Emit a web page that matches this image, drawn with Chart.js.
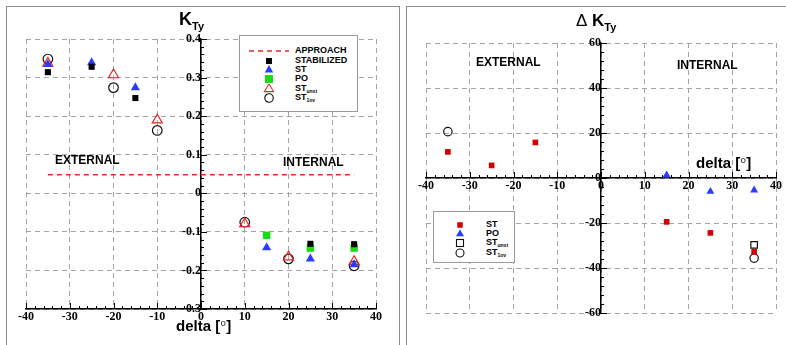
<!DOCTYPE html>
<html><head><meta charset="utf-8">
<script src="https://cdn.jsdelivr.net/npm/chart.js@4.4.1/dist/chart.umd.min.js"></script>
<style>
html,body{margin:0;padding:0;background:#fff;}
body{width:786px;height:345px;position:relative;overflow:hidden;font-family:"Liberation Sans",Arial,sans-serif;}
.panel{position:absolute;border:1px solid #8c8c8c;background:transparent;}
canvas{position:absolute;top:0;}
.t{position:absolute;font-weight:bold;color:#000;white-space:nowrap;line-height:1;}
.leg{position:absolute;background:#fff;border:1px solid #9a9a9a;box-sizing:border-box;}
.row{position:absolute;font-weight:bold;font-size:9px;line-height:9px;white-space:nowrap;color:#000;}
.sym{position:absolute;line-height:0;}
.sym svg{display:block;}
.s{font-size:5px;vertical-align:-2px;}
</style>
</head><body>
<div class="panel" style="left:6px;top:6px;width:392px;height:400px;"></div>
<div class="panel" style="left:406px;top:6px;width:400px;height:400px;"></div>
<canvas id="cL" width="400" height="345" style="left:0;width:400px;height:345px;"></canvas>
<canvas id="cR" width="386" height="345" style="left:400px;width:386px;height:345px;"></canvas>

<div class="t" style="left:179px;top:10px;font-size:18px;">K<span style="font-size:11px;vertical-align:-5px;">Ty</span></div>
<div class="t" style="left:176px;top:318px;font-size:15px;">delta [<span style="font-family:'Liberation Serif';font-weight:normal;">°</span>]</div>
<div class="t" style="left:55px;top:154px;font-size:12px;">EXTERNAL</div>
<div class="t" style="left:283px;top:156px;font-size:12px;">INTERNAL</div>

<div class="t" style="left:576px;top:12px;font-size:17px;"><span style="font-weight:normal;">Δ</span> K<span style="font-size:11px;vertical-align:-5px;">Ty</span></div>
<div class="t" style="left:696px;top:155px;font-size:15px;">delta [<span style="font-family:'Liberation Serif';font-weight:normal;">°</span>]</div>
<div class="t" style="left:476px;top:56px;font-size:12px;">EXTERNAL</div>
<div class="t" style="left:677px;top:59px;font-size:12px;">INTERNAL</div>

<div id="legL" class="leg" style="left:239px;top:35px;width:119px;height:77px;"></div>
<div id="legR" class="leg" style="left:433px;top:211px;width:82px;height:52px;"></div>

<script>
// ---------- DATA ----------
const deltaTicksX = [-40, -30, -20, -10, 0, 10, 20, 30, 40];
const ktyTicks = [-0.3, -0.2, -0.1, 0, 0.1, 0.2, 0.3, 0.4];
const dktyTicks = [-60, -40, -20, 0, 20, 40, 60];

// Left chart: K_Ty
const approachX = [-35, 35];
const approachY = 0.048;
const stabX = [-35, -25, -15, 25, 35];
const stabY = [0.314, 0.328, 0.247, -0.131, -0.132];
const stX = [-35, -25, -15, 15, 25, 35];
const stY = [0.334, 0.339, 0.274, -0.141, -0.170, -0.185];
const poX = [15, 25, 35];
const poY = [-0.109, -0.142, -0.142];
const unstX = [-35, -20, -10, 10, 20, 35];
const unstY = [0.337, 0.307, 0.190, -0.079, -0.165, -0.177];
const ovX = [-35, -20, -10, 10, 20, 35];
const ovY = [0.348, 0.274, 0.163, -0.075, -0.170, -0.188];

// Right chart: Delta K_Ty
const dStX = [-35, -25, -15, 15, 25, 35];
const dStY = [11.6, 5.6, 15.8, -19.5, -24.4, -32.8];
const dPoX = [15, 25, 35];
const dPoY = [1.3, -6.0, -5.4];
const dUnstX = [35];
const dUnstY = [-29.7];
const dOvX = [-35, 35];
const dOvY = [20.6, -35.6];

// ---------- HELPERS ----------
const pts = (xs, ys) => xs.map((x, i) => ({x: x, y: Array.isArray(ys) ? ys[i] : ys}));
const tickFont = {family: "'Liberation Serif', 'Times New Roman', serif", weight: 'bold', size: 12};
const GRID = '#a4a4a4';
const BLUE = '#2a3cff', GREEN = '#18dc18', RED = '#e52a2a', DRED = '#d40000';

const axisTicks = {
  id: 'axisTicks',
  afterDraw(chart, args, o) {
    const {ctx, scales: {x, y}} = chart;
    const x0 = x.getPixelForValue(0);
    const yAx = y.getPixelForValue(o.xAxisAt);
    ctx.save();
    ctx.strokeStyle = '#000';
    ctx.lineWidth = 1;
    ctx.beginPath();
    const nx = Math.round((x.max - x.min) / o.xMinor);
    for (let i = 0; i <= nx; i++) {
      const v = x.min + i * o.xMinor;
      const r = v / o.xMajor;
      const major = Math.abs(r - Math.round(r)) < 1e-6;
      const px = Math.round(x.getPixelForValue(v)) + 0.5;
      ctx.moveTo(px, yAx);
      ctx.lineTo(px, yAx - (major ? 6 : 3));
    }
    const ny = Math.round((y.max - y.min) / o.yMinor);
    for (let i = 0; i <= ny; i++) {
      const v = y.min + i * o.yMinor;
      const r = v / o.yMajor;
      const major = Math.abs(r - Math.round(r)) < 1e-6;
      const py = Math.round(y.getPixelForValue(v)) + 0.5;
      ctx.moveTo(x0, py);
      ctx.lineTo(x0 + (major ? 6 : 3), py);
    }
    ctx.stroke();
    ctx.restore();
  }
};

function scaleX(yAt, ticksArr) {
  return {
    type: 'linear', position: {y: yAt},
    min: ticksArr[0], max: ticksArr[ticksArr.length - 1],
    afterBuildTicks: s => { s.ticks = ticksArr.map(v => ({value: v})); },
    ticks: {font: tickFont, color: '#000', padding: 1, maxRotation: 0, autoSkip: false,
            callback: v => String(Math.round(v * 10) / 10)},
    grid: {color: GRID, lineWidth: 1, drawTicks: false},
    border: {color: '#000', width: 1.5, dash: [5, 4]},
    afterFit: s => { s.height = 0; }
  };
}
function scaleY(ticksArr) {
  return {
    type: 'linear', position: {x: 0},
    min: ticksArr[0], max: ticksArr[ticksArr.length - 1],
    afterBuildTicks: s => { s.ticks = ticksArr.map(v => ({value: v})); },
    ticks: {font: tickFont, color: '#000', padding: 3, autoSkip: false,
            callback: v => String(Math.round(v * 10) / 10)},
    grid: {color: GRID, lineWidth: 1, drawTicks: false},
    border: {color: '#000', width: 1.5, dash: [5, 4]},
    afterFit: s => { s.width = 0; }
  };
}

const common = {
  responsive: false, animation: false, devicePixelRatio: 1,
  events: [],
};

new Chart(document.getElementById('cL'), {
  type: 'scatter',
  data: {datasets: [
    {label: 'APPROACH', type: 'line', data: pts(approachX, approachY), borderColor: RED, borderDash: [5, 4],
     borderWidth: 1.5, pointRadius: 0, showLine: true, fill: false},
    {label: 'STABILIZED', data: pts(stabX, stabY), pointStyle: 'rect', pointRadius: 4.3,
     backgroundColor: '#000', borderColor: '#000', borderWidth: 0},
    {label: 'ST', data: pts(stX, stY), pointStyle: 'triangle', pointRadius: 5.3,
     backgroundColor: BLUE, borderColor: BLUE, borderWidth: 0},
    {label: 'PO', data: pts(poX, poY), pointStyle: 'rect', pointRadius: 5.3,
     backgroundColor: GREEN, borderColor: GREEN, borderWidth: 0},
    {label: 'ST_unst', data: pts(unstX, unstY), pointStyle: 'triangle', pointRadius: 5.8,
     backgroundColor: 'rgba(0,0,0,0)', borderColor: RED, borderWidth: 1.2},
    {label: 'ST_1ov', data: pts(ovX, ovY), pointStyle: 'circle', pointRadius: 4.8,
     backgroundColor: 'rgba(0,0,0,0)', borderColor: '#111', borderWidth: 1.2}
  ]},
  options: Object.assign({}, common, {
    layout: {padding: {left: 26, right: 24, top: 39, bottom: 36}},
    plugins: {legend: {display: false}, tooltip: {enabled: false},
              axisTicks: {xAxisAt: ktyTicks[0], xMinor: 2, xMajor: 10, yMinor: 0.02, yMajor: 0.1}},
    scales: {x: scaleX(ktyTicks[0], deltaTicksX), y: scaleY(ktyTicks)}
  }),
  plugins: [axisTicks]
});

new Chart(document.getElementById('cR'), {
  type: 'scatter',
  data: {datasets: [
    {label: 'ST', data: pts(dStX, dStY), pointStyle: 'rect', pointRadius: 4.0,
     backgroundColor: DRED, borderColor: DRED, borderWidth: 0},
    {label: 'PO', data: pts(dPoX, dPoY), pointStyle: 'triangle', pointRadius: 4.6,
     backgroundColor: BLUE, borderColor: BLUE, borderWidth: 0},
    {label: 'ST_unst', data: pts(dUnstX, dUnstY), pointStyle: 'rect', pointRadius: 4.6,
     backgroundColor: 'rgba(0,0,0,0)', borderColor: '#111', borderWidth: 1.2},
    {label: 'ST_1ov', data: pts(dOvX, dOvY), pointStyle: 'circle', pointRadius: 4.2,
     backgroundColor: 'rgba(0,0,0,0)', borderColor: '#111', borderWidth: 1.2}
  ]},
  options: Object.assign({}, common, {
    layout: {padding: {left: 26, right: 10, top: 43, bottom: 32}},
    plugins: {legend: {display: false}, tooltip: {enabled: false},
              axisTicks: {xAxisAt: 0, xMinor: 2, xMajor: 10, yMinor: 4, yMajor: 20}},
    scales: {x: scaleX(0, deltaTicksX), y: scaleY(dktyTicks)}
  }),
  plugins: [axisTicks]
});

// ---------- HTML legends ----------
function svgSym(kind, color, size) {
  const w = 14, h = 10, cx = 7, cy = 5;
  let inner = '';
  if (kind === 'line') {
    return '<svg width="40" height="4"><line x1="0" y1="2" x2="40" y2="2" stroke="' + color + '" stroke-width="1.5" stroke-dasharray="5,4"/></svg>';
  } else if (kind === 'sq') {
    inner = '<rect x="' + (cx - size / 2) + '" y="' + (cy - size / 2) + '" width="' + size + '" height="' + size + '" fill="' + color + '"/>';
  } else if (kind === 'osq') {
    inner = '<rect x="' + (cx - size / 2) + '" y="' + (cy - size / 2) + '" width="' + size + '" height="' + size + '" fill="none" stroke="' + color + '" stroke-width="1.1"/>';
  } else if (kind === 'tri' || kind === 'otri') {
    const r = size / Math.sqrt(3);
    const p = [[cx, cy - r], [cx + size / 2, cy + r / 2], [cx - size / 2, cy + r / 2]].map(a => a.join(',')).join(' ');
    inner = kind === 'tri' ? '<polygon points="' + p + '" fill="' + color + '"/>'
                           : '<polygon points="' + p + '" fill="none" stroke="' + color + '" stroke-width="1.1"/>';
  } else if (kind === 'circ') {
    inner = '<circle cx="' + cx + '" cy="' + cy + '" r="' + (size / 2) + '" fill="none" stroke="' + color + '" stroke-width="1.1"/>';
  }
  return '<svg width="' + w + '" height="' + h + '">' + inner + '</svg>';
}
function buildLegend(id, symX, textX, rows) {
  const el = document.getElementById(id);
  let html = '';
  rows.forEach(r => {
    if (r.kind === 'line') {
      html += '<div class="sym" style="left:' + (symX - 20) + 'px;top:' + (r.y - 2) + 'px;">' + svgSym('line', r.color) + '</div>';
    } else {
      html += '<div class="sym" style="left:' + (symX - 7) + 'px;top:' + (r.y - 5) + 'px;">' + svgSym(r.kind, r.color, r.size) + '</div>';
    }
    html += '<div class="row" style="left:' + textX + 'px;top:' + (r.y - 5) + 'px;">' + r.text + '</div>';
  });
  el.innerHTML = html;
}
buildLegend('legL', 29, 55, [
  {kind: 'line', color: RED, y: 15, text: 'APPROACH'},
  {kind: 'sq', color: '#000', size: 6, y: 24.5, text: 'STABILIZED'},
  {kind: 'tri', color: BLUE, size: 8.5, y: 33.5, text: 'ST'},
  {kind: 'sq', color: GREEN, size: 8, y: 43, text: 'PO'},
  {kind: 'otri', color: RED, size: 9, y: 52.5, text: 'ST<span class="s">unst</span>'},
  {kind: 'circ', color: '#111', size: 8.5, y: 62, text: 'ST<span class="s">1ov</span>'}
]);
buildLegend('legR', 26, 52, [
  {kind: 'sq', color: DRED, size: 5.5, y: 12.5, text: 'ST'},
  {kind: 'tri', color: BLUE, size: 8, y: 21.5, text: 'PO'},
  {kind: 'osq', color: '#111', size: 7, y: 31, text: 'ST<span class="s">unst</span>'},
  {kind: 'circ', color: '#111', size: 8, y: 40.5, text: 'ST<span class="s">1ov</span>'}
]);
</script>
</body></html>
